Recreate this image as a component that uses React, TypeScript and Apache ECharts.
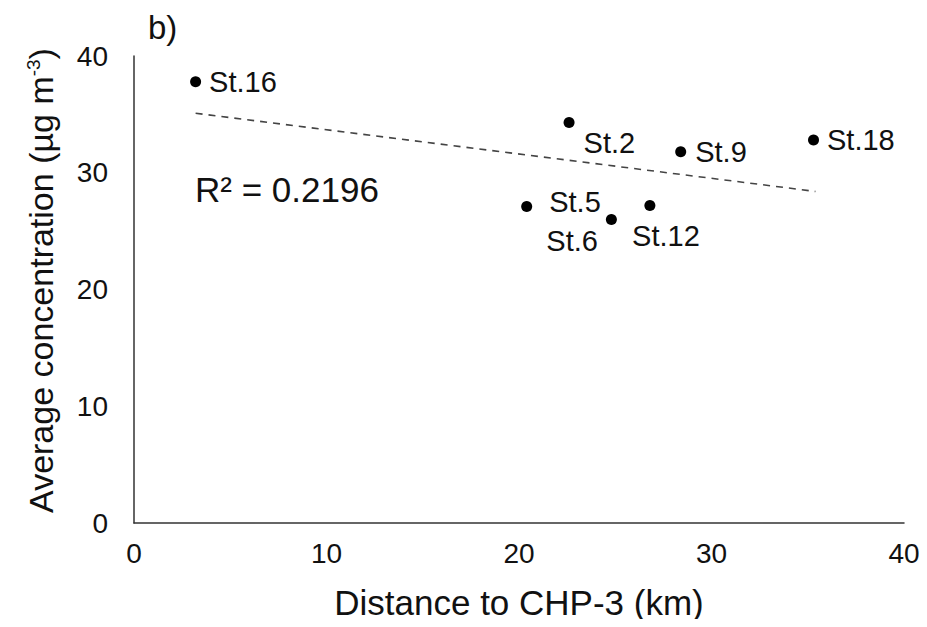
import React, { useEffect, useRef } from "react";
import * as echarts from "echarts";

const stations = ["St.16", "St.2", "St.9", "St.18", "St.5", "St.6", "St.12"];
const distanceKm = [3.2, 22.6, 28.4, 35.3, 20.4, 24.8, 26.8];
const concentration = [37.8, 34.3, 31.8, 32.8, 27.1, 26.0, 27.2];
const trendX = [3.2, 35.4];
const trendY = [35.1, 28.4];
const xTicks = [0, 10, 20, 30, 40];
const yTicks = [0, 10, 20, 30, 40];
const r2Text = "R² = 0.2196";
const panelLabel = "b)";

const FONT = "'Liberation Sans', Arial, sans-serif";
const TXT = "#111111";

const labelPlacement: Record<string, any> = {
  "St.16": { position: "right", offset: [3, 0] },
  "St.2": { position: "right", offset: [4, 20] },
  "St.9": { position: "right", offset: [4, 0] },
  "St.18": { position: "right", offset: [3, 0] },
  "St.5": { position: "right", offset: [12, -5] },
  "St.6": { position: "left", offset: [-3, 22] },
  "St.12": { position: "bottom", offset: [16, 6] },
};

export default function App() {
  const ref = useRef<HTMLDivElement>(null);
  useEffect(() => {
    if (!ref.current) return;
    const chart = echarts.init(ref.current, undefined, { renderer: "svg" });
    const points = stations.map((s, i) => ({
      name: s,
      value: [distanceKm[i], concentration[i]],
      label: {
        show: true,
        formatter: s,
        fontSize: 29,
        fontFamily: FONT,
        color: TXT,
        opacity: 1,
        ...labelPlacement[s],
      },
    }));
    chart.setOption({
      animation: false,
      backgroundColor: "#ffffff",
      grid: { left: 134, right: 23, top: 56, bottom: 104, containLabel: false },
      xAxis: {
        type: "value",
        min: xTicks[0],
        max: xTicks[xTicks.length - 1],
        interval: xTicks[1] - xTicks[0],
        name: "Distance to CHP-3 (km)",
        nameLocation: "middle",
        nameGap: 62,
        nameTextStyle: { fontSize: 35, fontFamily: FONT, color: TXT },
        axisLine: { show: true, onZero: false, lineStyle: { color: "#333333", width: 1.5 } },
        axisTick: { show: false },
        splitLine: { show: false },
        axisLabel: { fontSize: 28, fontFamily: FONT, color: TXT, margin: 16 },
      },
      yAxis: {
        type: "value",
        min: yTicks[0],
        max: yTicks[yTicks.length - 1],
        interval: yTicks[1] - yTicks[0],
        name: "Average concentration (µg m{sup|-3})",
        nameLocation: "middle",
        nameRotate: 90,
        nameGap: 76,
        nameTextStyle: {
          fontSize: 34,
          fontFamily: FONT,
          color: TXT,
          padding: [0, 0, 0, 18],
          rich: {
            sup: { fontSize: 19, fontFamily: FONT, color: TXT, verticalAlign: "top", padding: [0, 0, 12, 0] },
          },
        },
        axisLine: { show: true, onZero: false, lineStyle: { color: "#333333", width: 1.5 } },
        axisTick: { show: false },
        splitLine: { show: false },
        axisLabel: { fontSize: 28, fontFamily: FONT, color: TXT, margin: 26 },
      },
      series: [
        {
          type: "line",
          data: trendX.map((x, i) => [x, trendY[i]]),
          symbol: "none",
          silent: true,
          lineStyle: { color: "#444444", width: 1.6, type: [7, 6] },
          z: 1,
        },
        {
          type: "scatter",
          data: points,
          symbol: "circle",
          symbolSize: 11,
          itemStyle: { color: "#000000", opacity: 1 },
          z: 3,
        },
      ],
      graphic: [
        {
          type: "text",
          left: 148,
          top: 11,
          style: { text: panelLabel, fontSize: 33, fontFamily: FONT, fill: TXT },
        },
        {
          type: "text",
          left: 195,
          top: 172,
          style: { text: r2Text, fontSize: 35, fontFamily: FONT, fill: TXT },
        },
      ],
    });
    return () => chart.dispose();
  }, []);
  return <div ref={ref} style={{ width: 927, height: 627, margin: -8 }} />;
}
